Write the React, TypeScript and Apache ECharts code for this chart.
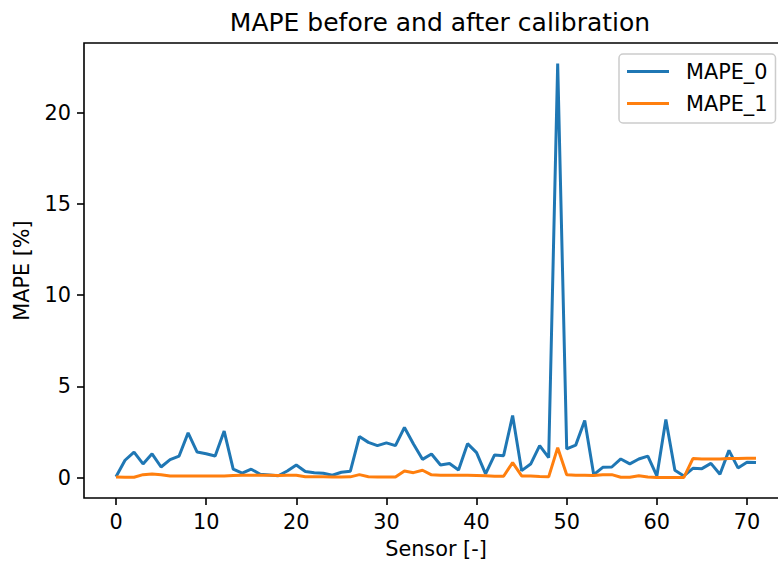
import React, { useEffect, useRef } from "react";
import * as echarts from "echarts";

const sensors: number[] = Array.from({ length: 72 }, (_, i) => i);

const mape0: number[] = [
  0.05, 0.95, 1.4, 0.75, 1.3, 0.58, 0.98, 1.18, 2.45, 1.4,
  1.31, 1.18, 2.55, 0.46, 0.24, 0.46, 0.18, 0.14, 0.1, 0.36,
  0.69, 0.33, 0.27, 0.24, 0.13, 0.29, 0.35, 2.25, 1.93, 1.75,
  1.9, 1.75, 2.75, 1.84, 1.0, 1.29, 0.69, 0.77, 0.42, 1.86,
  1.37, 0.2, 1.24, 1.2, 3.4, 0.38, 0.74, 1.75, 1.09, 22.7,
  1.57, 1.78, 3.13, 0.16, 0.56, 0.58, 1.02, 0.75, 1.02, 1.18,
  0.09, 3.19, 0.4, 0.09, 0.51, 0.49, 0.78, 0.18, 1.49, 0.53,
  0.84, 0.82,
];

const mape1: number[] = [
  0.03, 0.02, 0.02, 0.16, 0.2, 0.16, 0.09, 0.09, 0.09, 0.09,
  0.09, 0.09, 0.09, 0.12, 0.13, 0.13, 0.13, 0.13, 0.12, 0.13,
  0.13, 0.04, 0.04, 0.04, 0.03, 0.03, 0.04, 0.16, 0.05, 0.03,
  0.03, 0.03, 0.36, 0.27, 0.4, 0.15, 0.13, 0.13, 0.13, 0.13,
  0.12, 0.1, 0.07, 0.07, 0.82, 0.09, 0.09, 0.06, 0.04, 1.64,
  0.15, 0.13, 0.13, 0.11, 0.15, 0.16, 0.02, 0.02, 0.1, 0.03,
  0.01, 0.01, 0.01, 0.01, 1.04, 1.02, 1.02, 1.02, 1.04, 1.04,
  1.06, 1.06,
];

const xTicks: number[] = [0, 10, 20, 30, 40, 50, 60, 70];
const yTicks: number[] = [0, 5, 10, 15, 20];

const FONT = "DejaVu Sans";

export default function App() {
  const ref = useRef<HTMLDivElement>(null);
  useEffect(() => {
    if (!ref.current) return;
    document.body.style.margin = "0";
    const chart = echarts.init(ref.current, null, { renderer: "svg" });
    chart.setOption({
      animation: false,
      backgroundColor: "#ffffff",
      title: {
        text: "MAPE before and after calibration",
        left: 435,
        textAlign: "center",
        top: 5,
        textStyle: { fontFamily: FONT, fontSize: 25, fontWeight: "normal", color: "#000" },
      },
      legend: {
        orient: "vertical",
        left: 619,
        top: 54,
        padding: [7, 8, 9, 8],
        itemGap: 11,
        itemWidth: 42,
        itemHeight: 3,
        icon: "rect",
        borderColor: "#cccccc",
        borderWidth: 1.5,
        borderRadius: 4,
        backgroundColor: "rgba(255,255,255,0.8)",
        textStyle: { fontFamily: FONT, fontSize: 20.8, color: "#000", padding: [0, 0, 0, 12] },
        data: ["MAPE_0", "MAPE_1"],
      },
      grid: {
        left: 84,
        top: 43,
        bottom: 66,
        width: 704,
        outerBoundsMode: "none",
        containLabel: false,
        show: true,
        borderColor: "#000",
        borderWidth: 1.6,
        backgroundColor: "transparent",
      },
      xAxis: {
        type: "value",
        min: -3.55,
        max: 74.55,
        name: "Sensor [-]",
        nameLocation: "middle",
        nameGap: 40,
        nameTextStyle: { fontFamily: FONT, fontSize: 20.8, color: "#000" },
        axisLine: { show: false, onZero: false },
        axisTick: {
          show: true,
          length: 7,
          lineStyle: { color: "#000", width: 1.6 },
          customValues: xTicks,
        },
        axisLabel: {
          fontFamily: FONT,
          fontSize: 20.8,
          color: "#000",
          margin: 13,
          customValues: xTicks,
        },
        splitLine: { show: false },
      },
      yAxis: {
        type: "value",
        min: -1.12,
        max: 23.83,
        name: "MAPE [%]",
        nameLocation: "middle",
        nameGap: 52,
        nameTextStyle: { fontFamily: FONT, fontSize: 20.8, color: "#000" },
        axisLine: { show: false, onZero: false },
        axisTick: {
          show: true,
          length: 7,
          lineStyle: { color: "#000", width: 1.6 },
          customValues: yTicks,
        },
        axisLabel: {
          fontFamily: FONT,
          fontSize: 20.8,
          color: "#000",
          margin: 13,
          customValues: yTicks,
        },
        splitLine: { show: false },
      },
      series: [
        {
          name: "MAPE_0",
          type: "line",
          symbol: "none",
          color: "#1f77b4",
          lineStyle: { width: 3, color: "#1f77b4" },
          data: sensors.map((s, i) => [s, mape0[i]]),
        },
        {
          name: "MAPE_1",
          type: "line",
          symbol: "none",
          color: "#ff7f0e",
          lineStyle: { width: 3, color: "#ff7f0e" },
          data: sensors.map((s, i) => [s, mape1[i]]),
        },
      ],
    });
    return () => chart.dispose();
  }, []);
  return (
    <div
      ref={ref}
      style={{ position: "fixed", left: 0, top: 0, width: 778, height: 564 }}
    />
  );
}
